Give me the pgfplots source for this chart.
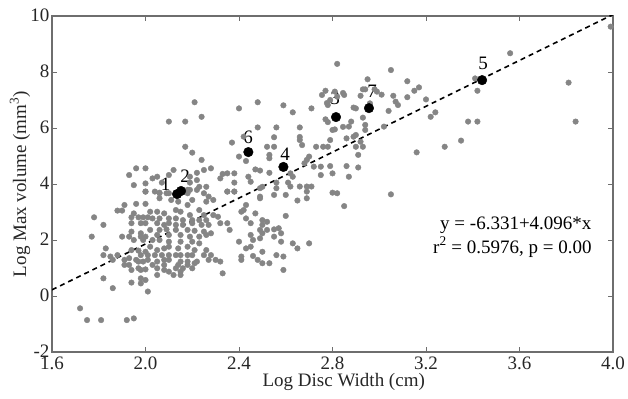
\documentclass[border=0pt]{standalone}
\usepackage{fontspec}
\setmainfont{Liberation Serif}
\usepackage{pgfplots}
\pgfplotsset{compat=1.18}
\usepackage{pgfplotstable}
\definecolor{dotgray}{HTML}{858585}
\definecolor{axgray}{HTML}{6E6E6E}
\newcommand{\cf}{\fontsize{19bp}{22bp}\selectfont}
\pgfplotstableread{
x y
2.00 3.73
2.04 3.73
2.06 3.67
2.10 3.67
2.15 3.73
2.18 3.79
2.22 3.79
2.25 3.67
2.27 3.55
2.35 3.73
2.38 3.73
2.49 3.55
2.56 3.85
2.62 3.91
2.66 3.91
2.69 3.91
2.71 3.91
2.69 3.73
2.80 3.69
1.91 3.25
1.96 3.29
2.00 3.29
2.06 3.49
2.11 3.43
2.14 3.37
2.18 3.25
2.20 3.43
2.26 3.37
2.29 3.43
2.42 3.07
2.43 3.25
2.49 3.49
2.55 3.61
2.60 3.61
2.65 3.41
2.69 3.49
1.88 3.05
1.90 3.05
1.95 2.95
2.02 3.01
2.05 3.01
2.08 2.95
2.13 3.07
2.15 3.01
2.19 2.89
2.23 3.07
2.25 2.89
2.29 2.89
2.31 2.83
2.41 3.01
2.47 2.95
2.60 2.86
1.78 2.81
1.94 2.81
1.97 2.81
1.99 2.81
2.01 2.81
2.03 2.77
2.06 2.77
2.10 2.77
2.13 2.77
2.16 2.71
2.20 2.71
2.23 2.71
2.26 2.71
2.32 2.60
2.35 2.60
2.36 2.36
2.43 2.77
2.45 2.60
2.50 2.71
2.52 2.65
2.50 2.54
1.82 2.54
1.94 2.60
1.98 2.60
2.00 2.60
2.05 2.60
2.08 2.54
2.10 2.60
2.13 2.54
2.16 2.54
2.20 2.60
2.24 2.54
2.27 2.54
1.94 2.30
1.98 2.24
2.02 2.36
2.06 2.36
2.09 2.38
2.13 2.36
2.18 2.36
2.21 2.33
2.25 2.30
2.28 2.24
2.49 2.36
2.52 2.36
2.55 2.38
2.57 2.42
1.93 2.12
1.77 2.12
1.90 2.12
1.98 2.12
2.00 2.12
2.05 2.18
2.10 2.18
2.15 2.18
2.19 2.12
2.23 2.12
2.26 2.18
2.45 2.18
2.50 2.24
2.58 2.24
2.63 1.88
2.70 1.88
1.95 2.00
1.99 2.00
2.03 2.00
2.06 2.00
2.10 1.94
2.15 1.94
2.20 1.94
2.23 1.88
2.40 1.94
2.46 2.00
2.49 2.06
2.55 2.12
2.58 1.94
2.45 1.76
1.83 1.70
1.94 1.64
1.97 1.62
2.00 1.58
2.02 1.76
2.05 1.64
2.08 1.70
2.10 1.76
2.14 1.70
2.18 1.76
2.21 1.64
2.26 1.64
2.43 1.70
2.50 1.58
2.65 1.70
1.82 1.46
1.85 1.41
1.88 1.46
1.98 1.46
2.01 1.46
2.04 1.46
2.07 1.46
2.10 1.46
2.13 1.46
2.15 1.46
2.18 1.46
2.20 1.46
2.25 1.46
2.28 1.46
2.46 1.43
2.41 1.41
2.56 1.46
1.86 1.29
1.91 1.29
1.93 1.35
1.96 1.29
1.97 1.23
1.99 1.23
2.01 1.29
2.05 1.23
2.08 1.29
2.10 1.29
2.15 1.23
2.18 1.23
2.22 1.23
2.27 1.29
2.30 1.29
2.32 1.23
2.41 1.29
2.48 1.29
2.50 1.17
2.53 1.17
2.59 1.41
1.93 1.11
2.03 1.11
2.08 1.11
2.14 1.11
2.18 1.11
2.21 1.17
1.91 1.11
1.94 0.93
1.97 0.99
2.00 0.95
2.05 0.99
2.08 0.93
2.13 0.99
2.16 0.99
2.20 0.99
2.10 0.87
2.15 0.87
1.98 0.93
2.59 0.93
2.33 0.81
2.12 0.75
2.15 0.75
1.82 0.63
1.98 0.63
2.00 0.57
2.05 0.75
1.86 0.28
1.94 0.48
1.98 0.45
2.01 0.16
1.72 -0.44
1.75 -0.86
1.81 -0.86
1.92 -0.86
1.95 -0.80
2.82 8.29
2.21 6.92
2.24 6.40
2.10 6.23
2.17 6.23
2.40 6.70
2.48 6.92
2.59 6.81
2.63 6.56
2.71 6.70
2.77 7.33
2.81 7.30
2.79 7.00
2.82 7.12
2.48 6.02
2.56 6.02
2.66 6.02
2.77 6.31
2.81 5.95
2.17 5.33
2.20 5.12
2.24 4.86
2.37 5.48
2.42 5.69
2.40 4.98
2.43 4.82
2.52 5.33
2.55 5.33
2.55 5.67
2.53 5.04
2.53 4.92
2.66 5.57
2.67 5.39
2.70 4.98
2.69 4.86
2.68 4.74
2.73 5.33
2.76 5.33
2.78 5.33
2.79 5.57
2.72 4.62
2.75 4.62
2.79 4.64
2.80 4.38
2.62 4.38
2.63 4.26
2.56 4.05
2.61 4.05
2.47 4.52
2.49 4.48
2.53 4.40
2.44 4.26
2.45 4.08
2.50 3.90
2.49 3.85
2.38 4.38
2.35 4.38
2.33 4.36
2.32 4.20
2.38 4.05
2.35 3.73
2.38 3.73
2.28 4.56
2.25 4.50
2.22 4.40
2.19 4.26
2.22 4.14
2.19 4.05
2.23 3.90
2.26 3.90
2.12 4.50
2.10 4.32
2.05 4.26
2.03 4.20
2.07 4.05
2.00 4.56
1.96 4.56
1.93 4.32
2.00 4.02
1.95 3.96
2.00 3.73
2.06 3.69
2.09 3.67
2.19 3.79
2.18 3.67
2.82 3.67
3.99 9.62
3.56 8.67
3.81 7.62
3.84 6.23
3.41 7.77
3.42 7.33
3.38 6.23
3.42 6.23
3.35 5.55
3.28 5.33
3.16 5.13
3.05 3.63
3.05 8.07
3.12 7.67
3.15 7.33
3.17 7.45
3.12 7.10
3.20 7.02
3.22 6.40
3.24 6.56
3.06 7.15
3.07 6.94
3.08 6.82
3.04 6.61
3.02 6.05
3.01 7.19
2.95 7.74
2.93 7.38
2.94 7.38
2.98 7.38
2.99 7.30
2.92 7.15
2.96 6.88
2.85 7.18
2.89 6.73
2.90 6.70
2.93 6.37
2.94 6.11
2.94 5.93
2.87 6.05
2.88 6.23
2.89 5.69
2.90 5.75
2.86 5.63
2.92 5.51
2.93 5.33
2.90 5.33
2.91 5.04
2.86 4.64
2.91 4.59
2.87 4.26
2.755 7.18
2.776 6.89
2.78 6.82
2.845 7.25
2.78 6.21
2.80 5.93
2.845 6.04
2.66 5.68
2.75 4.32
2.85 3.21
}\graydata
\pgfplotstableread{
x y
2.135 3.64
2.152 3.75
2.815 6.39
2.59 4.61
3.44 7.71
2.44 5.14
2.956 6.71
}\blackdata
\begin{document}
\begin{tikzpicture}
\useasboundingbox (0,0) rectangle (628bp,399bp);
\begin{axis}[
  at={(52bp,47bp)}, anchor=south west,
  scale only axis, width=561bp, height=336bp,
  xmin=1.6, xmax=4.0, ymin=-2, ymax=10,
  xtick={1.6,2.0,2.4,2.8,3.2,3.6,4.0},
  ytick={-2,0,2,4,6,8,10},
  /pgf/number format/assume math mode=true,
  tick label style={font=\cf, color=black!85},
  xticklabel style={/pgf/number format/fixed, /pgf/number format/fixed zerofill, /pgf/number format/precision=1, yshift=-1bp},
  yticklabel style={xshift=1bp, yshift=1bp},
  tick align=inside, tick pos=both,
  major tick length=5bp,
  axis line style={color=axgray, line width=1.1pt},
  every tick/.style={color=axgray, line width=0.8pt},
  xlabel={Log Disc Width (cm)},
  ylabel={Log Max volume (mm\textsuperscript{3})},
  label style={font=\cf, color=black!85},
  xlabel style={at={(axis description cs:0.52,-0.09)}, anchor=center},
  ylabel style={at={(axis description cs:-0.057,0.5)}, anchor=center},
  clip=true,
]
\addplot[only marks, mark=*, mark size=2.8bp, color=dotgray, mark options={draw=dotgray, fill=dotgray}] table[x=x,y=y] {\graydata};
\addplot[black, dashed, line width=1.6pt, dash pattern=on 5bp off 4bp] coordinates {(1.6,0.2206) (4.0,10.053)};
\addplot[only marks, mark=*, mark size=4.8bp, color=black] table[x=x,y=y] {\blackdata};
\node[font=\cf] at (axis cs:2.086,4.00) {1};
\node[font=\cf] at (axis cs:2.169,4.29) {2};
\node[font=\cf] at (axis cs:2.811,7.07) {3};
\node[font=\cf] at (axis cs:2.597,5.07) {4};
\node[font=\cf] at (axis cs:3.444,8.32) {5};
\node[font=\cf] at (axis cs:2.439,5.68) {6};
\node[font=\cf] at (axis cs:2.969,7.32) {7};
\node[font=\cf, anchor=base west, inner sep=0pt] at (axis cs:3.26,2.36) {y = -6.331+4.096*x};
\node[font=\cf, anchor=base west, inner sep=0pt] at (axis cs:3.23,1.535) {r\textsuperscript{2} = 0.5976, p = 0.00};
\end{axis}
\end{tikzpicture}
\end{document}
